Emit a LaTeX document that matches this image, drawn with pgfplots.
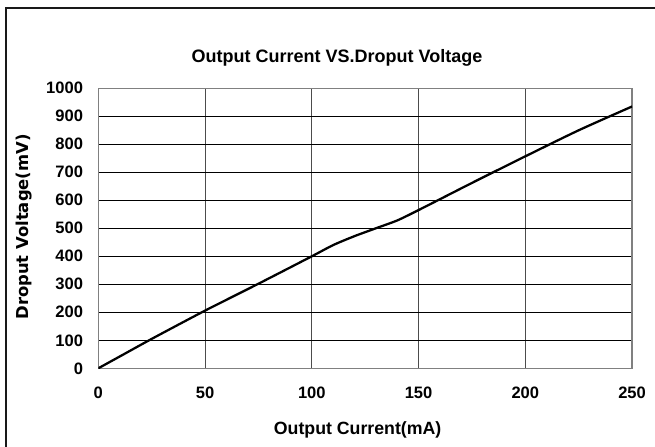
\documentclass[border=0pt]{standalone}
\usepackage{pgfplots}
\pgfplotsset{compat=1.18}
\usepackage{fontspec}
\setmainfont{Liberation Sans}
\newfontfamily\dejavu{DejaVu Sans}
\begin{document}
\begin{tikzpicture}
\begin{axis}[
  at={(0,0)}, anchor=south west,
  scale only axis,
  width=400.3pt, height=210pt,
  xmin=0, xmax=250, ymin=0, ymax=1000,
  xtick={0,50,...,250}, ytick={0,100,...,1000},
  major tick length=0pt,
  grid=major,
  x grid style={line width=0.75pt, color=black!70},
  y grid style={line width=0.75pt, color=black},
  axis line style={line width=0.9pt, color=black!50},
  /pgf/number format/assume math mode=true,
  ticklabel style={font=\bfseries\fontsize{12.4}{14}\selectfont, inner sep=0pt},
  xticklabel style={anchor=base, yshift=-22.3pt},
  yticklabel style={anchor=east, xshift=-11.25pt},
  /pgf/number format/1000 sep={},
]
\addplot[black, line width=1.7pt, smooth, tension=0.4] coordinates {
  (0,0) (10,42) (25,105) (50,206) (75,302) (100,400) (110,440) (120,472)
  (130,500) (140,528) (150,565) (175,662) (200,757) (225,850) (250,935)
};
\end{axis}
\node[anchor=base, font=\bfseries\fontsize{13.5}{16}\selectfont, inner sep=0pt] at (179pt,229pt) {Output Current VS.Droput Voltage};
\node[anchor=base, font=\bfseries\fontsize{13.3}{16}\selectfont, inner sep=0pt] at (194.5pt,-49.3pt) {Output Current(mA)};
\node[anchor=base, rotate=90, font=\dejavu\bfseries\fontsize{12.3}{15}\selectfont, inner sep=0pt] at (-52pt,106pt) {Droput Voltage(mV)};
\draw[line width=1.5pt, black!90] (-69.2pt,-80pt) -- (-69.2pt,270.1pt) -- (440pt,270.1pt);
\pgfresetboundingbox
\path[use as bounding box] (-73.7pt,-59pt) rectangle (417.5pt,276.2pt);
\end{tikzpicture}
\end{document}
